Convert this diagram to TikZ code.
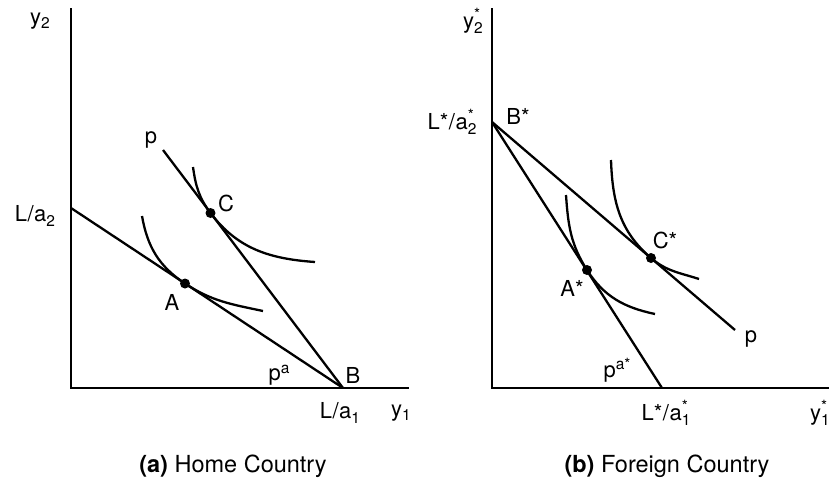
\documentclass[tikz,border=0pt]{standalone}
\usepackage{fontspec}
\setmainfont{TeX Gyre Heros}
\newcommand\Sub[1]{\raisebox{-4.5pt}{\fontsize{15.5}{15.5}\selectfont #1}}
\newcommand\Sup[1]{\raisebox{7.5pt}{\fontsize{15.5}{15.5}\selectfont #1}}
\newcommand\StarSub[1]{\rlap{\raisebox{9pt}{\fontsize{15.5}{15.5}\selectfont *}}\Sub{#1}}
\newcommand\Sl{\kern0.5pt/\kern0.5pt}
\begin{document}
\begin{tikzpicture}[x=1pt,y=-1pt,
  axis/.style={line width=1.1pt},
  budget/.style={line width=2.3pt},
  indiff/.style={line width=2.3pt},
  dot/.style={circle,fill=black,inner sep=0pt,minimum size=10pt},
  lbl/.style={font=\fontsize{22}{26}\selectfont,inner sep=0pt},
  captext/.style={font=\fontsize{23.5}{28}\selectfont,inner sep=0pt}]
\useasboundingbox (0,0) rectangle (836,483);
% ---------- panel (a) ----------
\coordinate (Otop) at (71,8);
\coordinate (O) at (71,388);
\coordinate (Xend) at (409,388);
\coordinate (La2) at (71,208);
\coordinate (B) at (343,388);
\coordinate (pstart) at (163,150);
\coordinate (Cs) at (193,167);
\coordinate (Ce) at (315,262);
\coordinate (As) at (142,216);
\coordinate (Ae) at (263,311);
\draw[axis] (Otop) -- (O) -- (Xend);
\draw[budget] (La2) -- (B);
\draw[budget] (pstart) -- (B);
\node[dot] (C) at (210.5,213) {};
\node[dot] (A) at (185,283.5) {};
\draw[indiff] (Cs) to[out=-82,in=127.1] (C.center) to[out=-52.9,in=176] (Ce);
\draw[indiff] (As) to[out=-80,in=146.5] (A.center) to[out=-33.5,in=168] (Ae);
\node[lbl] (y2) at (40,21) {y\Sub{2}};
\node[lbl] (lp) at (151,140) {p};
\node[lbl] (lC) at (226,203) {C};
\node[lbl] (lLa2) at (35,216) {L\Sl a\Sub{2}};
\node[lbl] (lA) at (172,302) {A};
\node[lbl] (lpa) at (279,375) {p\Sup{a}};
\node[lbl] (lB) at (353,375) {B};
\node[lbl] (lLa1) at (340,413) {L\Sl a\Sub{1}};
\node[lbl] (y1) at (401,413) {y\Sub{1}};
\node[captext] (capa) at (233,466) {\textbf{(a)} Home Country};
% ---------- panel (b) ----------
\coordinate (Ptop) at (492,8);
\coordinate (P) at (492,388);
\coordinate (PXend) at (829,388);
\coordinate (Bs) at (492,122);
\coordinate (pa1) at (662,388);
\coordinate (pend) at (735,330);
\coordinate (ASs) at (566,195);
\coordinate (ASe) at (655,314);
\coordinate (CSs) at (611,160);
\coordinate (CSe) at (699,279);
\draw[axis] (Ptop) -- (P) -- (PXend);
\draw[budget] (Bs) -- (pa1);
\draw[budget] (Bs) -- (pend);
\node[dot] (AS) at (587,270) {};
\node[dot] (CS) at (651,258) {};
\draw[indiff] (ASs) to[out=-86,in=122.6] (AS.center) to[out=-57.4,in=168] (ASe);
\draw[indiff] (CSs) to[out=-88,in=139.4] (CS.center) to[out=-40.6,in=162] (CSe);
\node[lbl] (y2s) at (473,21) {y\StarSub{2}};
\node[lbl] (lLa2s) at (452,122) {L*\Sl a\StarSub{2}};
\node[lbl] (lBs) at (518,116) {B*};
\node[lbl] (lCs) at (665,240) {C*};
\node[lbl] (lAs) at (572,288) {A*};
\node[lbl] (lps) at (751,339) {p};
\node[lbl] (lpas) at (617,370) {p\Sup{a*}};
\node[lbl] (lLa1s) at (666,413) {L*\Sl a\StarSub{1}};
\node[lbl] (y1s) at (820,413) {y\StarSub{1}};
\node[captext] (capb) at (667,466) {\textbf{(b)} Foreign Country};
\end{tikzpicture}
\end{document}
